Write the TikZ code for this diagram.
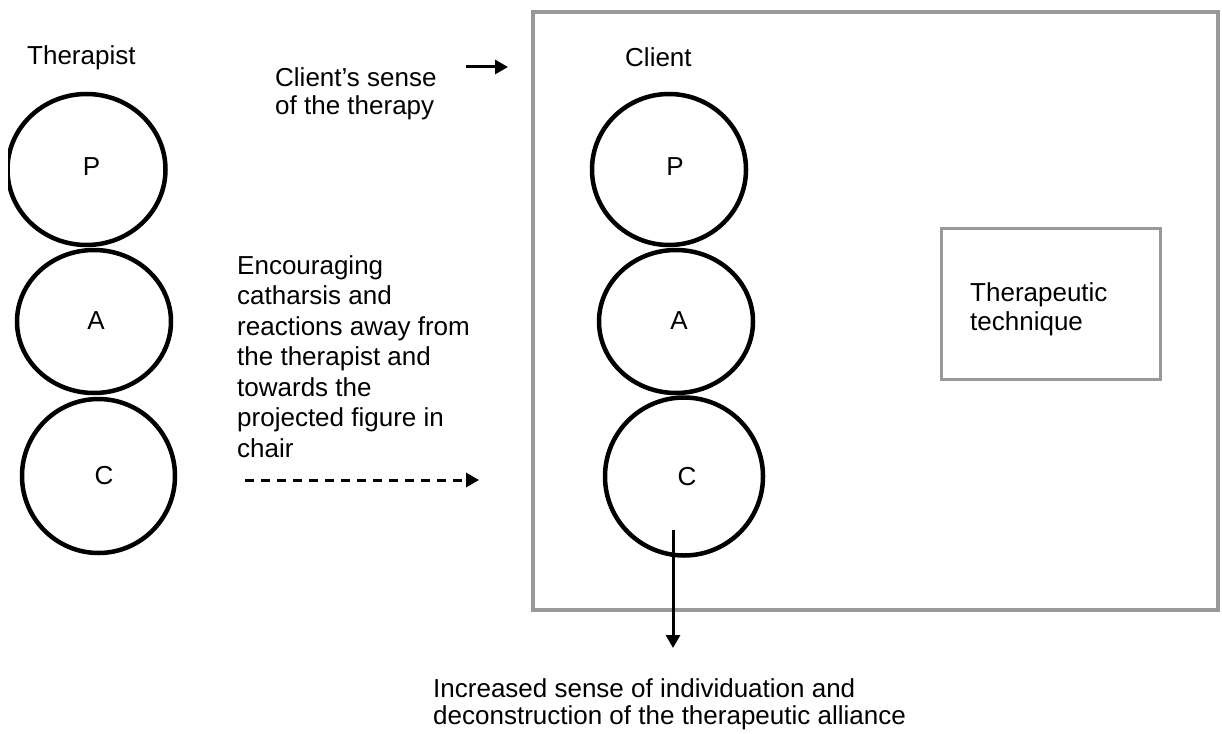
\documentclass[tikz,border=0pt]{standalone}
\usepackage{fontspec}
\setmainfont{Liberation Sans}
\usetikzlibrary{arrows.meta,shapes.geometric}
\definecolor{boxgray}{HTML}{999999}
\begin{document}
\begin{tikzpicture}[x=1pt,y=-1pt,
  lbl/.style={inner sep=0pt, anchor=north west, align=left, font=\fontsize{26}{30}\selectfont},
  letter/.style={inner sep=0pt, font=\fontsize{26}{30}\selectfont},
  ring/.style={draw, line width=4.5pt, ellipse, inner sep=0pt},
  gbox/.style={draw=boxgray, line width=3.5pt, rectangle, inner sep=0pt},
  arr/.style={line width=3pt, -{Triangle[length=13pt,width=14pt]}},
]
\useasboundingbox (0,0) rectangle (1222,733);

% client frame and technique box
\node[gbox, minimum width=685, minimum height=598] (clientbox) at (875.5,311) {};
\node[gbox, minimum width=219, minimum height=151] (tech) at (1051,304) {};
\node[lbl, font=\fontsize{26}{29}\selectfont] (techtxt) at (970,282) {Therapeutic\\technique};

% therapist circles
\begin{scope}
  \clip (8,0) rectangle (300,733);
  \node[ring, minimum width=158, minimum height=151] (tP) at (86.5,169.5) {};
\end{scope}
\node[ring, minimum width=154, minimum height=143] (tA) at (94,321.5) {};
\node[ring, minimum width=153, minimum height=154] (tC) at (98.5,476) {};
\node[letter] (tPl) at ([shift={(5,-2.5)}]tP.center) {P};
\node[letter] (tAl) at ([shift={(2,-0.5)}]tA.center) {A};
\node[letter] (tCl) at ([shift={(5.5,0)}]tC.center) {C};

% client circles
\node[ring, minimum width=154, minimum height=151] (cP) at (669,169.5) {};
\node[ring, minimum width=154, minimum height=143] (cA) at (676,321.5) {};
\node[ring, minimum width=158, minimum height=158] (cC) at (684,476.5) {};
\node[letter] (cPl) at ([shift={(6,-2.5)}]cP.center) {P};
\node[letter] (cAl) at ([shift={(3,-0.5)}]cA.center) {A};
\node[letter] (cCl) at ([shift={(3,0)}]cC.center) {C};

% labels
\node[lbl] (therapist) at (27,45) {Therapist};
\node[lbl] (client) at (625,47) {Client};
\node[lbl, font=\fontsize{26}{28}\selectfont] (sense) at (275,67) {Client’s sense\\of the therapy};
\node[lbl, font=\fontsize{26}{30.5}\selectfont] (encourage) at (237,255) {Encouraging\\catharsis and\\reactions away from\\the therapist and\\towards the\\projected figure in\\chair};
\node[lbl, font=\fontsize{26}{27}\selectfont] (outcome) at (433,678) {Increased sense of individuation and\\deconstruction of the therapeutic alliance};

% connectors
\coordinate (a1s) at (466,67);
\coordinate (a1e) at (508,67);
\draw[arr] (a1s) -- (a1e);

\coordinate (a2s) at (245,480);
\coordinate (a2e) at (479,480);
\draw[arr, dash pattern=on 9pt off 7pt] (a2s) -- (a2e);

\coordinate (a3s) at (673,530);
\coordinate (a3e) at (673,648);
\draw[arr] (a3s) -- (a3e);
\end{tikzpicture}
\end{document}
